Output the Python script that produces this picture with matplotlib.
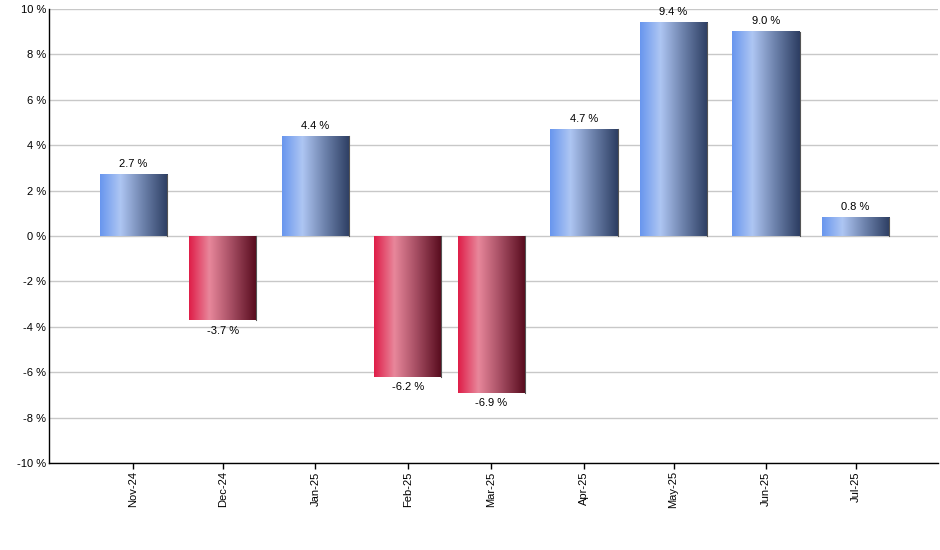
import numpy as np
import matplotlib
matplotlib.use("Agg")
import matplotlib.pyplot as plt
import matplotlib.dates as mdates
from matplotlib.colors import LinearSegmentedColormap
from datetime import datetime

months = ["2024-11-01", "2024-12-01", "2025-01-01", "2025-02-01", "2025-03-01",
          "2025-04-01", "2025-05-01", "2025-06-01", "2025-07-01"]
labels = ["Nov-24", "Dec-24", "Jan-25", "Feb-25", "Mar-25",
          "Apr-25", "May-25", "Jun-25", "Jul-25"]
values = [2.7, -3.7, 4.4, -6.2, -6.9, 4.7, 9.4, 9.0, 0.8]
yticks = [-10, -8, -6, -4, -2, 0, 2, 4, 6, 8, 10]

plt.rcParams['font.family'] = ['Liberation Sans', 'DejaVu Sans']

blue_cmap = LinearSegmentedColormap.from_list(
    "blue", [(0, "#6896ee"), (0.3, "#aec6f3"), (0.65, "#6a7fa8"), (1, "#2c3d62")])
red_cmap = LinearSegmentedColormap.from_list(
    "red", [(0, "#df1d48"), (0.3, "#e8879b"), (0.65, "#a0495e"), (1, "#560a1c")])

fig = plt.figure(figsize=(9.4, 5.5), dpi=100)
ax = fig.add_axes([49 / 940, 87 / 550, 889 / 940, 454 / 550])

dates = [datetime.strptime(m, "%Y-%m-%d") for m in months]
xs = mdates.date2num(dates)
width = 22.5

# horizontal gradient per bar
grad = np.linspace(0, 1, 256).reshape(1, -1)
for x, v in zip(xs, values):
    cmap = blue_cmap if v >= 0 else red_cmap
    x0, x1 = x - width / 2, x + width / 2
    ax.imshow(grad, cmap=cmap, aspect="auto", extent=[x0, x1, 0, v],
              origin="lower", zorder=3, interpolation="bilinear")
    ax.plot([x1, x1], [0, v], color="#555555", lw=0.8, zorder=4)
    if v >= 0:
        ax.annotate(f"{v:.1f} %", (x, v), xytext=(0, 4), textcoords="offset points",
                    ha="center", va="bottom", fontsize=8)
    else:
        ax.annotate(f"{v:.1f} %", (x, v), xytext=(0, -4), textcoords="offset points",
                    ha="center", va="top", fontsize=8)

ax.set_xlim(xs[0] - 28.2, xs[-1] + 27.6)
ax.set_ylim(-10, 10)
ax.set_yticks(yticks)
ax.set_yticklabels([f"{t} %" for t in yticks], fontsize=8)
ax.set_xticks(xs)
ax.set_xticklabels(labels, rotation=90, fontsize=8)
ax.tick_params(axis="y", length=0, pad=2)
ax.tick_params(axis="x", length=4, width=1, pad=2)

ax.grid(axis="y", color="#c8c8c8", lw=1, zorder=0)
ax.set_axisbelow(True)
for s in ["top", "right"]:
    ax.spines[s].set_visible(False)
ax.spines["left"].set_linewidth(1)
ax.spines["bottom"].set_linewidth(1)

fig.savefig("out.png", dpi=100)
